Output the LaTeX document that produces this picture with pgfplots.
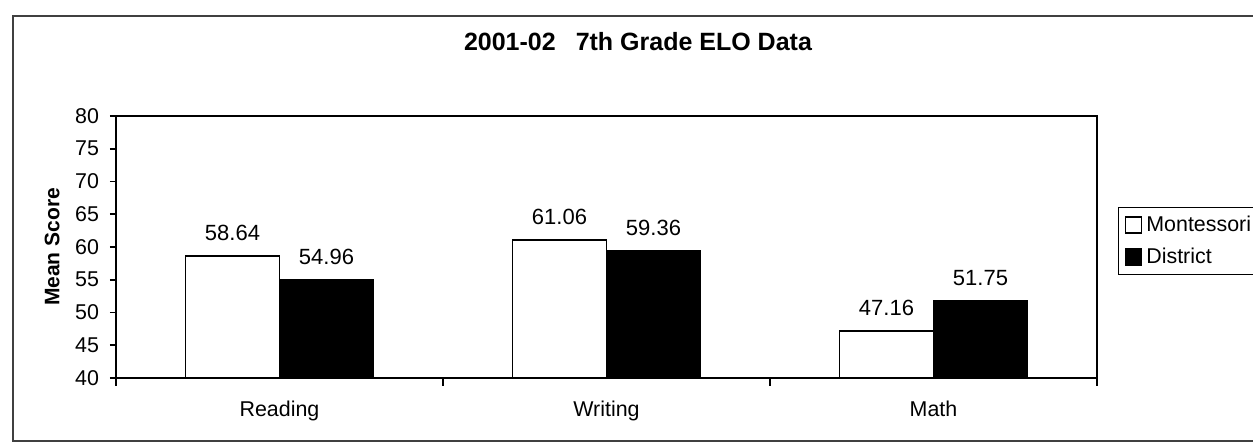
\documentclass[border=0pt]{standalone}
\usepackage{fontspec}
\setmainfont{Liberation Sans}
\usepackage{pgfplots}
\pgfplotsset{compat=1.18}
\begin{document}
\begin{tikzpicture}[x=0.5pt,y=0.5pt]
\useasboundingbox (0,0) rectangle (1253,442);
\draw[line width=0.8pt, black!75] (13,1) rectangle (1275,426);
\node[font=\fontsize{12.5}{14}\selectfont\bfseries] at (638,400) {2001-02\hspace{0.8em}7th Grade ELO Data};
\begin{axis}[
  at={(58pt,32pt)}, anchor=south west,
  scale only axis, width=490.5pt, height=131pt,
  xmin=-0.5, xmax=2.5, ymin=40, ymax=80,
  ytick={40,45,...,80},
  xtick={0,1,2}, xticklabels={Reading,Writing,Math},
  major x tick style={draw=none},
  minor xtick={-0.5,0.5,1.5,2.5},
  minor tick length=4pt, major tick length=3pt,
  tick align=outside, tick pos=left,
  axis line style={line width=0.9pt},
  tick style={line width=0.8pt, black},
  /pgf/number format/assume math mode=true,
  ticklabel style={font=\fontsize{10.7}{12}\selectfont},
  xticklabel style={yshift=-5pt},
  yticklabel style={xshift=-2pt},
  ylabel={Mean Score},
  ylabel style={font=\fontsize{10.5}{12}\selectfont\bfseries, at={(axis description cs:-0.065,0.5)}, anchor=center},
  ybar=0pt, bar width=47pt,
  nodes near coords={\pgfmathprintnumber[fixed,fixed zerofill,precision=2]{\pgfplotspointmeta}},
  every node near coord/.append style={font=\fontsize{11}{12}\selectfont, yshift=4pt},
  legend style={at={(1.0214,0.653)}, anchor=north west, draw=black, line width=0.6pt,
    font=\fontsize{10.7}{12}\selectfont, inner xsep=3pt, inner ysep=2pt,
    row sep=3pt, legend cell align=left},
  legend image code/.code={\draw[#1, line width=0.9pt] (1pt,-4pt) rectangle (9pt,4pt);},
]
\addplot[draw=black, fill=white, line width=0.9pt] coordinates {(0,58.64) (1,61.06) (2,47.16)};
\addplot[draw=black, fill=black, line width=0.9pt] coordinates {(0,54.96) (1,59.36) (2,51.75)};
\legend{Montessori, District}
\end{axis}
\end{tikzpicture}
\end{document}
